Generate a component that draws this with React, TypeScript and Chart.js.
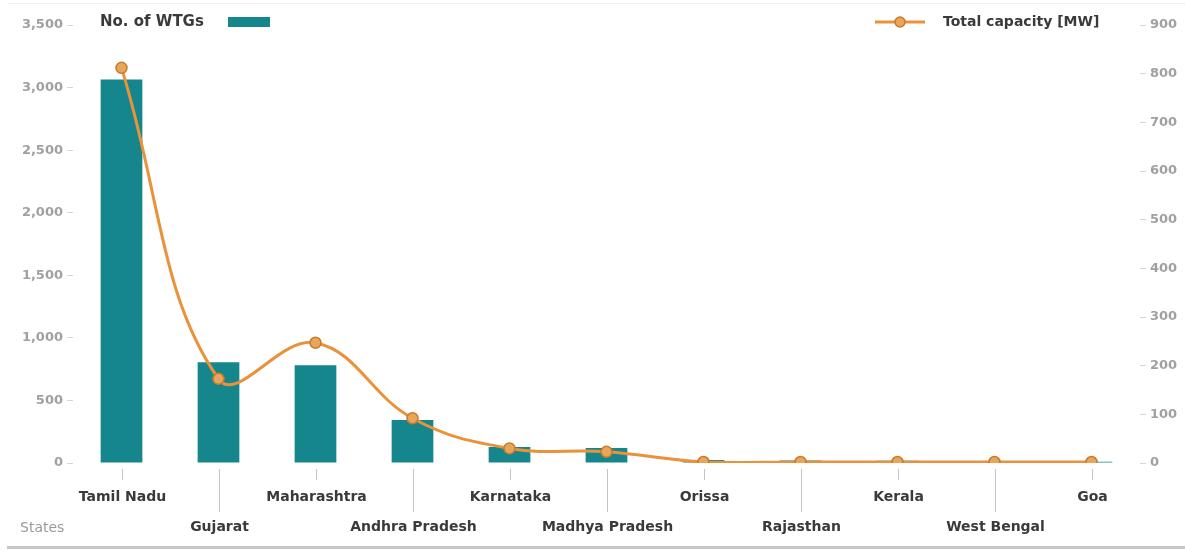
import { useEffect, useRef } from "react";
import { Chart, registerables } from "chart.js";

Chart.register(...registerables);

// Wind turbine installations by Indian state
const states = [
  "Tamil Nadu",
  "Gujarat",
  "Maharashtra",
  "Andhra Pradesh",
  "Karnataka",
  "Madhya Pradesh",
  "Orissa",
  "Rajasthan",
  "Kerala",
  "West Bengal",
  "Goa",
];
const turbineCounts = [3065, 805, 782, 344, 128, 120, 24, 20, 18, 10, 10];
const capacityMW = [812, 173, 247, 92, 30, 23, 2, 2, 2, 2, 2];

const countAxisMax = 3500;
const countAxisStep = 500;
const capacityAxisMax = 900;
const capacityAxisStep = 100;

const TEAL = "#16868d";
const ORANGE = "#e9923a";
const FONT = "'DejaVu Sans', 'Open Sans', sans-serif";

const overlayPlugin = {
  id: "overlay",
  afterDraw(chart: any) {
    const ctx = chart.ctx as CanvasRenderingContext2D;
    const xScale = chart.scales.x;
    const area = chart.chartArea;
    ctx.save();

    // staggered category labels with leader ticks
    ctx.font = `700 14px ${FONT}`;
    ctx.textAlign = "center";
    ctx.textBaseline = "middle";
    states.forEach((name, i) => {
      const px = Math.round(xScale.getPixelForValue(i)) + 0.5;
      const low = i % 2 === 1;
      ctx.strokeStyle = "#c4c4c4";
      ctx.lineWidth = 1;
      ctx.beginPath();
      ctx.moveTo(px, area.bottom + 6);
      ctx.lineTo(px, area.bottom + (low ? 49 : 17));
      ctx.stroke();
      ctx.fillStyle = "#3a3a3a";
      ctx.fillText(name, px, low ? 527 : 497);
    });

    // axis caption
    ctx.font = `400 14px ${FONT}`;
    ctx.fillStyle = "#9a9a9a";
    ctx.textAlign = "left";
    ctx.fillText("States", 20, 528);

    // legend: bars
    ctx.font = `700 15px ${FONT}`;
    ctx.fillStyle = "#3a3a3a";
    ctx.textAlign = "left";
    ctx.fillText("No. of WTGs", 100, 22);
    ctx.fillStyle = TEAL;
    ctx.fillRect(228, 17, 42, 10);

    // legend: line
    ctx.strokeStyle = ORANGE;
    ctx.lineWidth = 3;
    ctx.beginPath();
    ctx.moveTo(875, 22);
    ctx.lineTo(925, 22);
    ctx.stroke();
    ctx.beginPath();
    ctx.arc(900, 22, 5, 0, Math.PI * 2);
    ctx.fillStyle = "#e8a65a";
    ctx.fill();
    ctx.lineWidth = 1.5;
    ctx.strokeStyle = "#c77a2c";
    ctx.stroke();
    ctx.font = `700 14px ${FONT}`;
    ctx.fillStyle = "#3a3a3a";
    ctx.fillText("Total capacity [MW]", 943, 22);

    // frame rules
    ctx.fillStyle = "#c6c6c6";
    ctx.fillRect(7, 546, 1178, 3);
    ctx.fillStyle = "#f0f0f0";
    ctx.fillRect(7, 3, 1178, 1);

    ctx.restore();
  },
};

export default function App() {
  const canvasRef = useRef<HTMLCanvasElement | null>(null);

  useEffect(() => {
    document.body.style.margin = "0";
    const canvas = canvasRef.current;
    if (!canvas) return;

    const chart = new Chart(canvas, {
      type: "bar",
      data: {
        labels: states,
        datasets: [
          {
            type: "line",
            label: "Total capacity [MW]",
            data: capacityMW,
            yAxisID: "yCap",
            borderColor: ORANGE,
            borderWidth: 3,
            tension: 0.4,
            pointRadius: 5.5,
            pointBackgroundColor: "#e8a65a",
            pointBorderColor: "#c77a2c",
            pointBorderWidth: 1.5,
            order: 0,
          } as any,
          {
            type: "bar",
            label: "No. of WTGs",
            data: turbineCounts,
            yAxisID: "yCount",
            backgroundColor: TEAL,
            borderWidth: 0,
            categoryPercentage: 1,
            barPercentage: 0.43,
            order: 1,
          },
        ],
      },
      options: {
        responsive: false,
        animation: false,
        layout: { padding: { top: 25, bottom: 89, left: 0, right: 0 } },
        plugins: {
          legend: { display: false },
          tooltip: { enabled: false },
        },
        scales: {
          x: {
            display: false,
            offset: true,
          },
          yCount: {
            position: "left",
            min: 0,
            max: countAxisMax,
            afterFit(scale: any) {
              scale.width = 73;
            },
            ticks: {
              stepSize: countAxisStep,
              color: "#a0a0a0",
              font: { family: FONT, size: 13, weight: "bold" },
              padding: 4,
              callback: (v: any) => Number(v).toLocaleString("en-US"),
            },
            grid: {
              drawOnChartArea: false,
              tickLength: 6,
              color: "#d6d6d6",
            },
            border: { display: false },
          },
          yCap: {
            position: "right",
            min: 0,
            max: capacityAxisMax,
            afterFit(scale: any) {
              scale.width = 45;
            },
            ticks: {
              stepSize: capacityAxisStep,
              color: "#a0a0a0",
              font: { family: FONT, size: 13, weight: "bold" },
              padding: 4,
            },
            grid: {
              drawOnChartArea: false,
              tickLength: 6,
              color: "#d6d6d6",
            },
            border: { display: false },
          },
        },
      },
      plugins: [overlayPlugin],
    });

    return () => chart.destroy();
  }, []);

  return (
    <div style={{ width: 1185, height: 552, background: "#ffffff" }}>
      <canvas ref={canvasRef} width={1185} height={552} />
    </div>
  );
}
